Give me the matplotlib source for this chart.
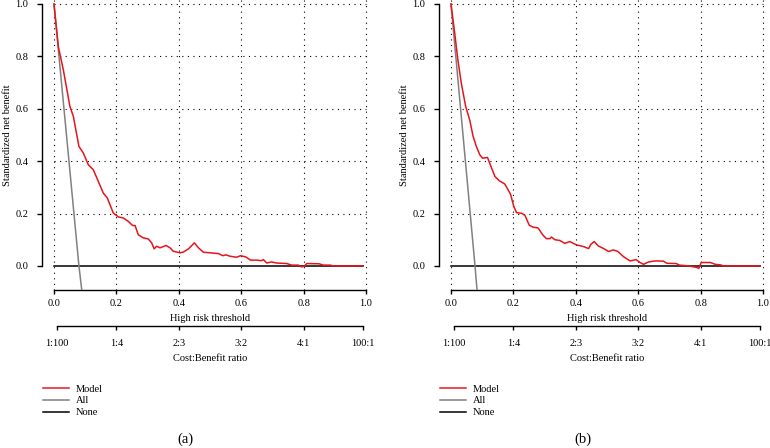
import numpy as np
import matplotlib
matplotlib.use("Agg")
import matplotlib.pyplot as plt

plt.rcParams['font.family'] = ['Liberation Serif', 'DejaVu Serif']
plt.rcParams['font.size'] = 7.5

# panel (a) model curve
model_x_a = [0, 0.014, 0.030, 0.051, 0.062, 0.080, 0.094, 0.110, 0.126, 0.142, 0.158, 0.171,
             0.190, 0.206, 0.222, 0.238, 0.252, 0.260, 0.270, 0.286, 0.302, 0.313, 0.321, 0.329,
             0.340, 0.359, 0.372, 0.382, 0.404, 0.415, 0.431, 0.450, 0.463, 0.479, 0.500, 0.527,
             0.541, 0.551, 0.564, 0.585, 0.598, 0.615, 0.630, 0.650, 0.665, 0.671, 0.682, 0.697,
             0.714, 0.746, 0.762, 0.783, 0.794, 0.802, 0.810, 0.850, 0.863, 0.885, 0.895, 0.991]
model_y_a = [1.0, 0.837, 0.748, 0.609, 0.571, 0.456, 0.431, 0.386, 0.367, 0.323, 0.278, 0.259,
             0.202, 0.187, 0.183, 0.170, 0.154, 0.154, 0.119, 0.107, 0.103, 0.088, 0.065, 0.075,
             0.069, 0.078, 0.069, 0.056, 0.050, 0.053, 0.065, 0.088, 0.069, 0.052, 0.050, 0.047,
             0.039, 0.042, 0.037, 0.033, 0.039, 0.034, 0.022, 0.022, 0.020, 0.024, 0.011, 0.015,
             0.011, 0.009, 0.003, 0.003, -0.004, -0.001, 0.009, 0.008, 0.003, 0.003, 0.0, 0.0]
all_x_a = [0.0, 0.080, 0.089]
all_y_a = [1.0, 0.0, -0.092]

# panel (b)
model_x_b = [0, 0.012, 0.022, 0.033, 0.047, 0.060, 0.071, 0.081, 0.092, 0.101, 0.117, 0.124,
             0.141, 0.156, 0.172, 0.180, 0.191, 0.201, 0.210, 0.226, 0.237, 0.251, 0.263, 0.279,
             0.295, 0.306, 0.317, 0.322, 0.333, 0.349, 0.365, 0.381, 0.392, 0.403, 0.424, 0.441,
             0.448, 0.459, 0.472, 0.488, 0.505, 0.521, 0.535, 0.552, 0.574, 0.593, 0.606, 0.617,
             0.633, 0.654, 0.681, 0.692, 0.722, 0.732, 0.761, 0.788, 0.794, 0.802, 0.831, 0.847,
             0.863, 0.874, 0.991]
model_y_b = [1.0, 0.888, 0.787, 0.698, 0.609, 0.557, 0.494, 0.457, 0.425, 0.411, 0.414, 0.392,
             0.341, 0.324, 0.313, 0.297, 0.273, 0.228, 0.203, 0.201, 0.193, 0.155, 0.148, 0.145,
             0.117, 0.104, 0.104, 0.110, 0.100, 0.097, 0.086, 0.093, 0.086, 0.080, 0.074, 0.066,
             0.082, 0.093, 0.076, 0.067, 0.055, 0.061, 0.055, 0.036, 0.019, 0.024, 0.013, 0.006,
             0.015, 0.019, 0.018, 0.010, 0.009, 0.003, 0.0, -0.006, -0.010, 0.013, 0.013, 0.006,
             0.004, 0.0, 0.0]
all_x_b = [0.0, 0.077, 0.0835]
all_y_b = [1.0, 0.0, -0.092]

none_x = [0.0, 0.991]
none_y = [0.0, 0.0]

x_ticks = [0.0, 0.2, 0.4, 0.6, 0.8, 1.0]
y_ticks = [0.0, 0.2, 0.4, 0.6, 0.8, 1.0]
cb_ticks = [1 / 101, 0.2, 0.4, 0.6, 0.8, 100 / 101]
cb_labels = ['1:100', '1:4', '2:3', '3:2', '4:1', '100:1']

RED = '#e8141c'
GRAY = '#808080'
W, H = 770, 448
YLO, YHI = -0.092, 1.015
XLO, XHI = -0.04, 1.04

fig = plt.figure(figsize=(W / 100, H / 100), dpi=100)


def panel(left_px, mx, my, ax_, ay_, tag):
    ax = fig.add_axes([left_px / W, (H - 290) / H, 337 / W, 290 / H])
    ax.set_xlim(XLO, XHI)
    ax.set_ylim(YLO, YHI)
    dot = (0, (1.0, 4.0))
    ax.vlines(x_ticks, YLO, YHI, colors='black', linestyles=dot, linewidth=0.8)
    ax.hlines(y_ticks[1:], 0, 1.0, colors='black', linestyles=dot, linewidth=0.8)
    l1, = ax.plot(mx, my, color=RED, lw=1.1, zorder=4)
    l2, = ax.plot(ax_, ay_, color=GRAY, lw=1.1, zorder=3)
    l3, = ax.plot(none_x, none_y, color='black', lw=1.1, zorder=2)

    for s in ['top', 'right']:
        ax.spines[s].set_visible(False)
    ax.spines['left'].set_bounds(0, 1)
    ax.spines['bottom'].set_bounds(0, 1)
    ax.spines['left'].set_linewidth(1.0)
    ax.spines['bottom'].set_linewidth(1.0)
    ax.set_xticks(x_ticks)
    ax.set_yticks(y_ticks)
    ax.xaxis.set_major_formatter(matplotlib.ticker.FormatStrFormatter('%.1f'))
    ax.yaxis.set_major_formatter(matplotlib.ticker.FormatStrFormatter('%.1f'))
    ax.tick_params(axis='x', length=3, width=1.0, pad=3.5, labelsize=7.5)
    ax.tick_params(axis='y', length=3.5, width=1.0, pad=6, labelsize=7.5)
    ax.set_xlabel('High risk threshold', fontsize=7.5, labelpad=4)
    ax.set_ylabel('Standardized net benefit', fontsize=7.5)
    ax.yaxis.set_label_coords(-0.087, (0.5 - YLO) / (YHI - YLO))

    sec = ax.secondary_xaxis(-36 / 290)
    sec.set_xticks(cb_ticks)
    sec.set_xticklabels(cb_labels)
    sec.spines['bottom'].set_bounds(cb_ticks[0], cb_ticks[-1])
    sec.spines['bottom'].set_linewidth(1.0)
    sec.tick_params(length=3, width=1.0, pad=6, labelsize=7.5)
    sec.set_xlabel('Cost:Benefit ratio', fontsize=7.5, labelpad=5)

    leg_x = (left_px - 3.5) / W
    fig.legend([l1, l2, l3], ['Model', 'All', 'None'], loc='upper left',
               bbox_to_anchor=(leg_x, (H - 379) / H), frameon=False, fontsize=7.5,
               handlelength=2.5, handletextpad=0.65, labelspacing=0.25, borderpad=0)
    fig.text((left_px + 12 + 156 - 24) / W, (H - 439) / H, tag, ha='center', va='center', fontsize=10.5)


panel(41.5, model_x_a, model_y_a, all_x_a, all_y_a, '(a)')
panel(438.5, model_x_b, model_y_b, all_x_b, all_y_b, '(b)')

fig.savefig('out.png', dpi=100)
